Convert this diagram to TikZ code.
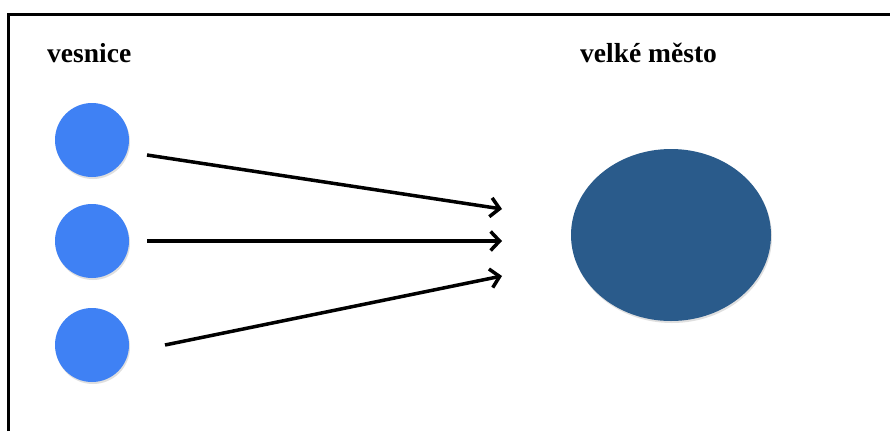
\documentclass[tikz,border=0pt]{standalone}
\usepackage{fontspec}
\setmainfont{Liberation Serif}
\usetikzlibrary{arrows.meta,shadows,shapes.geometric}
\definecolor{small}{HTML}{3F81F4}
\definecolor{big}{HTML}{2A5B8B}
\tikzset{
  village/.style={circle, fill=small, minimum size=74pt, inner sep=0pt,
    drop shadow={shadow xshift=1pt, shadow yshift=-2pt, opacity=0.25}},
  city/.style={ellipse, fill=big, minimum width=200pt, minimum height=172pt, inner sep=0pt,
    drop shadow={shadow xshift=1pt, shadow yshift=-2pt, opacity=0.25}},
  flow/.style={line width=3.5pt, -{Straight Barb[length=9pt,width=19pt,line width=3.5pt]}},
  lbl/.style={font=\fontsize{27.5}{30}\selectfont\bfseries, inner sep=0pt, anchor=base west}
}
\begin{document}
\begin{tikzpicture}[x=1pt,y=-1pt]
\useasboundingbox (0,0) rectangle (890,431);
\fill[white] (0,0) rectangle (890,431);
\draw[line width=3pt] (8,431) -- (8,14) -- (890,14);
\node[lbl] (t1) at (47,62) {vesnice};
\node[lbl] (t2) at (580,62) {velké město};
\node[village] (v1) at (92,140) {};
\node[village] (v2) at (92,241) {};
\node[village] (v3) at (92,345) {};
\node[city] (c) at (671,235) {};
\coordinate (a1) at (147,155);
\coordinate (b1) at (502,209);
\coordinate (a2) at (147,241);
\coordinate (b2) at (502,241);
\coordinate (a3) at (165,345);
\coordinate (b3) at (502,276);
\draw[flow] (a1) -- (b1);
\draw[flow] (a2) -- (b2);
\draw[flow] (a3) -- (b3);
\end{tikzpicture}
\end{document}
